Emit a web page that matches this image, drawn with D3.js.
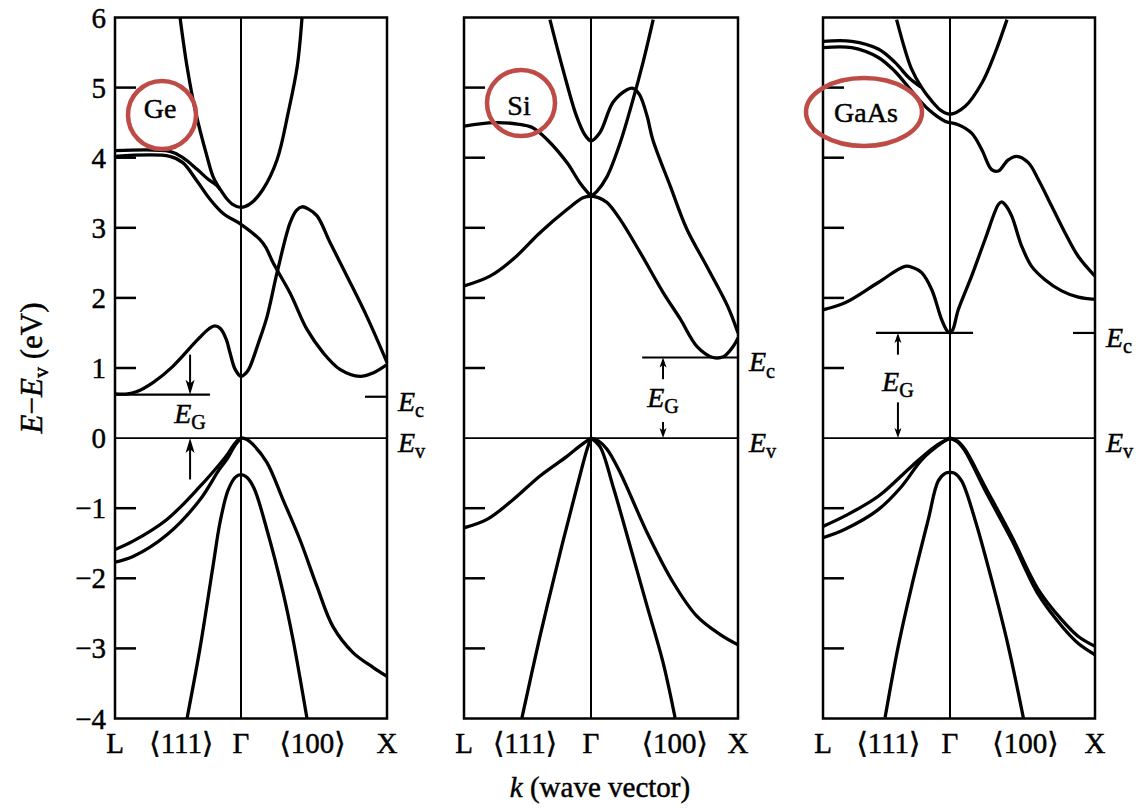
<!DOCTYPE html>
<html lang="en">
<head>
<meta charset="utf-8" />
<title>Band structures of Ge, Si and GaAs</title>
<style>
  body { margin: 0; background: #fff; }
  svg text { font-family: "Liberation Serif", "DejaVu Serif", serif; fill: #000; stroke: #000; stroke-width: 0.45px; }
</style>
</head>
<body>
<script src="https://d3js.org/d3.v7.min.js"></script>
<div id="chart"></div>
<script>
// ---- data: bands as [k, E] pairs, k in units of 2π/a (L = -√3/2, Γ = 0, X = 1), E - Ev in eV
const materials = ["Ge", "Si", "GaAs"];
const kLabels = ["L", "\u27E8111\u27E9", "\u0393", "\u27E8100\u27E9", "X"];
const kLabelPos = [
  [-0.866, -0.41, 0, 0.49, 1],
  [-0.866, -0.45, 0, 0.57, 1],
  [-0.866, -0.42, 0, 0.52, 1]
];
const eTicks = [-4, -3, -2, -1, 0, 1, 2, 3, 4, 5, 6];
const innerTicks = [-3, -2, -1, 1, 2, 3, 4, 5];

// Ge
const geC1 = [[-0.866,0.63],[-0.78,0.63],[-0.72,0.66],[-0.6,0.80],[-0.47,1.02],[-0.30,1.40],[-0.22,1.56],[-0.18,1.60],[-0.14,1.56],[-0.10,1.40],[-0.076,1.22],[-0.04,0.98],[0,0.88],[0.04,0.94],[0.062,1.02],[0.12,1.36],[0.178,1.73],[0.247,2.36],[0.336,3.07],[0.38,3.25],[0.418,3.30],[0.46,3.27],[0.521,3.17],[0.61,2.79],[0.726,2.31],[0.863,1.73],[1.0,1.08]];
const geC2 = [[-0.866,4.02],[-0.49,4.02],[-0.40,3.93],[-0.30,3.66],[-0.21,3.40],[-0.12,3.20],[0,3.05],[0.13,2.83],[0.17,2.72],[0.22,2.50],[0.336,2.07],[0.452,1.55],[0.562,1.22],[0.678,0.98],[0.815,0.88],[0.904,0.93],[1.0,1.05]];
const geC3 = [[-0.866,4.10],[-0.49,4.09],[-0.40,4.00],[-0.30,3.83],[-0.23,3.70],[-0.17,3.61],[-0.144,3.55],[-0.10,3.42],[-0.055,3.33],[0,3.29],[0.062,3.34],[0.151,3.55],[0.247,3.97],[0.323,4.64],[0.385,5.30],[0.418,6.0]];
const geC4 = [[-0.419,6.0],[-0.371,5.30],[-0.316,4.69],[-0.234,4.02],[-0.192,3.73],[-0.144,3.55]];
const geV1 = [[-0.866,-1.59],[-0.742,-1.47],[-0.509,-1.16],[-0.282,-0.69],[-0.15,-0.38],[-0.096,-0.24],[-0.04,-0.07],[0,0],[0.04,-0.02],[0.082,-0.09],[0.178,-0.35],[0.288,-0.88],[0.404,-1.45],[0.521,-2.12],[0.63,-2.69],[0.767,-3.06],[0.904,-3.27],[1.0,-3.40]];
const geV2 = [[-0.866,-1.77],[-0.742,-1.69],[-0.509,-1.38],[-0.282,-0.88],[-0.15,-0.45],[-0.096,-0.30],[-0.04,-0.10],[0,0]];
const geSO = [[-0.371,-4.0],[-0.282,-3.0],[-0.192,-1.82],[-0.144,-1.20],[-0.09,-0.75],[-0.04,-0.56],[0,-0.52],[0.04,-0.56],[0.09,-0.72],[0.178,-1.31],[0.288,-2.2],[0.356,-2.87],[0.452,-4.0]];

// Si
const siC1 = [[-0.28,5.97],[-0.19,5.25],[-0.10,4.60],[-0.04,4.32],[0,4.24],[0.061,4.36],[0.15,4.79],[0.245,4.97],[0.286,4.99],[0.33,4.90],[0.382,4.59],[0.42,4.26],[0.54,3.59],[0.65,2.99],[0.79,2.44],[0.93,1.88],[1.0,1.50]];
const siC2 = [[-0.866,4.45],[-0.66,4.50],[-0.50,4.48],[-0.40,4.43],[-0.30,4.26],[-0.164,3.93],[-0.075,3.64],[0,3.45]];
const siC3 = [[0,3.45],[0.04,3.52],[0.109,3.73],[0.198,4.21],[0.286,4.83],[0.354,5.36],[0.423,5.97]];
const siC4 = [[-0.866,2.17],[-0.689,2.31],[-0.532,2.55],[-0.348,2.93],[-0.164,3.26],[-0.055,3.43],[0,3.45],[0.05,3.43],[0.109,3.36],[0.198,3.12],[0.334,2.65],[0.49,2.08],[0.607,1.70],[0.72,1.31],[0.83,1.15],[0.9,1.16],[0.968,1.31],[1.0,1.43]];
const siV1 = [[-0.866,-1.28],[-0.709,-1.16],[-0.532,-0.88],[-0.348,-0.54],[-0.164,-0.26],[-0.075,-0.11],[0,0]];
const siV2 = [[-0.471,-3.99],[-0.348,-2.83],[-0.211,-1.64],[-0.095,-0.69],[-0.027,-0.16],[0,0]];
const siV3 = [[0,0],[0.05,-0.04],[0.109,-0.16],[0.198,-0.49],[0.382,-1.35],[0.559,-2.06],[0.72,-2.54],[0.877,-2.80],[1.0,-2.95]];
const siV4 = [[0,0],[0.061,-0.12],[0.15,-0.69],[0.266,-1.54],[0.382,-2.40],[0.49,-3.2],[0.572,-3.99]];

// GaAs
const gaC1 = [[-0.866,1.83],[-0.716,1.93],[-0.489,2.22],[-0.307,2.45],[-0.25,2.43],[-0.193,2.36],[-0.125,2.12],[-0.057,1.69],[-0.02,1.53],[0,1.50],[0.02,1.55],[0.057,1.83],[0.149,2.31],[0.241,2.83],[0.333,3.33],[0.356,3.37],[0.38,3.33],[0.425,3.17],[0.494,2.74],[0.563,2.45],[0.655,2.26],[0.77,2.10],[0.885,2.01],[1.0,1.98]];
const gaC2 = [[-0.866,5.57],[-0.67,5.57],[-0.489,5.43],[-0.375,5.23],[-0.261,4.95],[-0.148,4.69],[-0.034,4.52],[0,4.50],[0.057,4.47],[0.149,4.35],[0.218,4.12],[0.287,3.83],[0.333,3.81],[0.402,3.97],[0.46,4.02],[0.54,3.93],[0.609,3.69],[0.701,3.31],[0.793,2.93],[0.885,2.59],[1.0,2.31]];
const gaC3 = [[-0.866,5.66],[-0.67,5.66],[-0.489,5.55],[-0.375,5.36],[-0.28,5.14],[-0.2,5.01]];
const gaC4 = [[-0.364,5.97],[-0.307,5.54],[-0.261,5.26],[-0.193,5.0],[-0.125,4.81],[-0.06,4.67],[0,4.62],[0.103,4.73],[0.221,5.07],[0.31,5.49],[0.393,5.97]];
const gaV1 = [[-0.866,-1.26],[-0.716,-1.11],[-0.489,-0.83],[-0.261,-0.40],[-0.102,-0.12],[0,0]];
const gaV2 = [[-0.866,-1.42],[-0.716,-1.30],[-0.489,-1.02],[-0.33,-0.69],[-0.193,-0.31],[-0.057,-0.07],[0,0]];
const gaV3 = [[0,0],[0.05,-0.04],[0.103,-0.16],[0.241,-0.69],[0.425,-1.40],[0.609,-2.16],[0.77,-2.59],[0.885,-2.83],[1.0,-2.97]];
const gaV4 = [[0,0],[0.05,-0.05],[0.103,-0.18],[0.241,-0.74],[0.425,-1.45],[0.609,-2.23],[0.77,-2.68],[0.885,-2.93],[1.0,-3.09]];
const gaSO = [[-0.443,-3.99],[-0.353,-2.97],[-0.261,-2.11],[-0.148,-1.16],[-0.08,-0.61],[-0.03,-0.50],[0,-0.49],[0.03,-0.50],[0.08,-0.61],[0.172,-1.16],[0.287,-2.02],[0.402,-2.97],[0.506,-3.99]];

const bands = [
  [geC1, geC2, geC3, geC4, geV1, geV2, geSO],
  [siC1, siC2, siC3, siC4, siV1, siV2, siV3, siV4],
  [gaC1, gaC2, gaC3, gaC4, gaV1, gaV2, gaV3, gaV4, gaSO]
];

// gap annotations
const ecLevel = [0.62, 1.15, 1.50];
const ecLineK = [[-0.866, -0.213], [0.348, 1], [-0.505, 0.159]];
const ecTick = [0.59, null, 1.50];
const gapArrowK = [-0.35, 0.49, -0.355];
const gapArrowTop = [[1.19, 0.62], [0.84, 1.15], [1.19, 1.50]];
const gapArrowBottom = [[-0.59, 0], [0.23, 0], [0.51, 0]];
const gapTextE = [0.22, 0.45, 0.67];

// ---- layout
const W = 1145, H = 808;
const panelPx = [[115, 241, 387], [464, 591, 738], [823, 950, 1095]];
const y = d3.scaleLinear().domain([-4, 6]).range([718.5, 17.5]);

const svg = d3.select("#chart").append("svg")
  .attr("width", W).attr("height", H)
  .style("display", "block");

const line = x => d3.line()
  .x(d => x(d[0]))
  .y(d => y(d[1]))
  .curve(d3.curveCatmullRom.alpha(0.5));

function arrow(g, x, e0, e1, len, w) {
  const y0 = y(e0), y1 = y(e1);
  const dir = Math.sign(y1 - y0);
  g.append("line")
    .attr("x1", x).attr("x2", x)
    .attr("y1", y0).attr("y2", y1 - dir * len * 0.7)
    .attr("stroke", "#000").attr("stroke-width", 2);
  g.append("path")
    .attr("d", `M${x},${y1} L${x - w / 2},${y1 - dir * len} L${x},${y1 - dir * len * 0.75} L${x + w / 2},${y1 - dir * len} Z`)
    .attr("fill", "#000");
}

function subLabel(g, x, yb, main, sub, size, anchor) {
  const t = g.append("text")
    .attr("x", x).attr("y", yb)
    .attr("font-size", size)
    .attr("text-anchor", anchor || "start");
  t.append("tspan").attr("font-style", "italic").text(main);
  t.append("tspan").attr("font-size", size * 0.72).attr("dy", size * 0.22).text(sub);
  return t;
}

materials.forEach((name, i) => {
  const [x0, xg, x1] = panelPx[i];
  const x = d3.scaleLinear().domain([-0.866, 0, 1]).range([x0, xg, x1]);
  const g = svg.append("g");

  g.append("clipPath").attr("id", "clip" + i)
    .append("rect")
    .attr("x", x0).attr("y", y(6))
    .attr("width", x1 - x0).attr("height", y(-4) - y(6));

  // Γ line and Ev line
  g.append("line")
    .attr("x1", x(0)).attr("x2", x(0))
    .attr("y1", y(6)).attr("y2", y(-4))
    .attr("stroke", "#000").attr("stroke-width", 2);
  g.append("line")
    .attr("x1", x0).attr("x2", x1)
    .attr("y1", y(0)).attr("y2", y(0))
    .attr("stroke", "#000").attr("stroke-width", 1.8);

  // inner ticks on the left edge
  g.selectAll(".tick").data(innerTicks).join("line")
    .attr("x1", x0).attr("x2", x0 + 21)
    .attr("y1", d => y(d)).attr("y2", d => y(d))
    .attr("stroke", "#000").attr("stroke-width", 2.5);

  // bands
  g.append("g").attr("clip-path", `url(#clip${i})`)
    .selectAll("path").data(bands[i]).join("path")
    .attr("d", line(x))
    .attr("fill", "none")
    .attr("stroke", "#000")
    .attr("stroke-width", 3.3)
    .attr("stroke-linejoin", "round");

  // frame
  g.append("rect")
    .attr("x", x0).attr("y", y(6))
    .attr("width", x1 - x0).attr("height", y(-4) - y(6))
    .attr("fill", "none").attr("stroke", "#000").attr("stroke-width", 2.5);

  // gap annotation
  const ec = ecLevel[i];
  g.append("line")
    .attr("x1", x(ecLineK[i][0])).attr("x2", x(ecLineK[i][1]))
    .attr("y1", y(ec)).attr("y2", y(ec))
    .attr("stroke", "#000").attr("stroke-width", 2.2);
  if (ecTick[i] !== null) {
    g.append("line")
      .attr("x1", x1 - 22).attr("x2", x1)
      .attr("y1", y(ecTick[i])).attr("y2", y(ecTick[i]))
      .attr("stroke", "#000").attr("stroke-width", 2.2);
  }
  const ax = x(gapArrowK[i]);
  const big = i === 0;
  arrow(g, ax, gapArrowTop[i][0], gapArrowTop[i][1], big ? 15 : 10, big ? 9 : 7);
  arrow(g, ax, gapArrowBottom[i][0], gapArrowBottom[i][1], big ? 15 : 10, big ? 9 : 7);
  subLabel(g, ax, y(gapTextE[i]), "E", "G", 28, "middle");

  // Ec / Ev labels on the right
  const ecLabelE = ecTick[i] !== null ? ecTick[i] : ec;
  subLabel(g, x1 + 11, y(ecLabelE) + 14, "E", "c", 28);
  subLabel(g, x1 + 11, y(0) + 14, "E", "v", 28);

  // k labels
  g.selectAll(".klab").data(kLabels).join("text")
    .attr("x", (d, j) => x(kLabelPos[i][j]))
    .attr("y", 753)
    .attr("font-size", 29)
    .attr("text-anchor", "middle")
    .text(d => d);
});

// y tick labels (first panel only)
svg.selectAll(".ylab").data(eTicks).join("text")
  .attr("x", 106)
  .attr("y", d => y(d) + 10)
  .attr("font-size", 29)
  .attr("text-anchor", "end")
  .text(d => d < 0 ? "\u2212" + Math.abs(d) : d);

// axis titles
const yt = svg.append("text")
  .attr("transform", "translate(42,368) rotate(-90)")
  .attr("font-size", 31)
  .attr("text-anchor", "middle");
yt.append("tspan").attr("font-style", "italic").text("E");
yt.append("tspan").text("\u2212");
yt.append("tspan").attr("font-style", "italic").text("E");
yt.append("tspan").attr("font-size", 22).attr("dy", 6).text("v");
yt.append("tspan").attr("dy", -6).text(" (eV)");

const xt = svg.append("text")
  .attr("x", 600).attr("y", 797)
  .attr("font-size", 29)
  .attr("text-anchor", "middle");
xt.append("tspan").attr("font-style", "italic").text("k");
xt.append("tspan").text(" (wave vector)");

// material labels with red highlight marks
const labelPos = [[160, 118], [519, 115], [866, 122]];
const markRadii = [[34, 34], [34, 33], [58, 34]];
const markCenter = [[162, 115], [521, 103], [864, 112]];
materials.forEach((name, i) => {
  svg.append("text")
    .attr("x", labelPos[i][0]).attr("y", labelPos[i][1])
    .attr("font-size", 28)
    .attr("text-anchor", "middle")
    .text(name);
  svg.append("ellipse")
    .attr("cx", markCenter[i][0]).attr("cy", markCenter[i][1])
    .attr("rx", markRadii[i][0]).attr("ry", markRadii[i][1])
    .attr("fill", "none")
    .attr("stroke", "#bf4b47")
    .attr("stroke-width", 4.5);
});
</script>
</body>
</html>
